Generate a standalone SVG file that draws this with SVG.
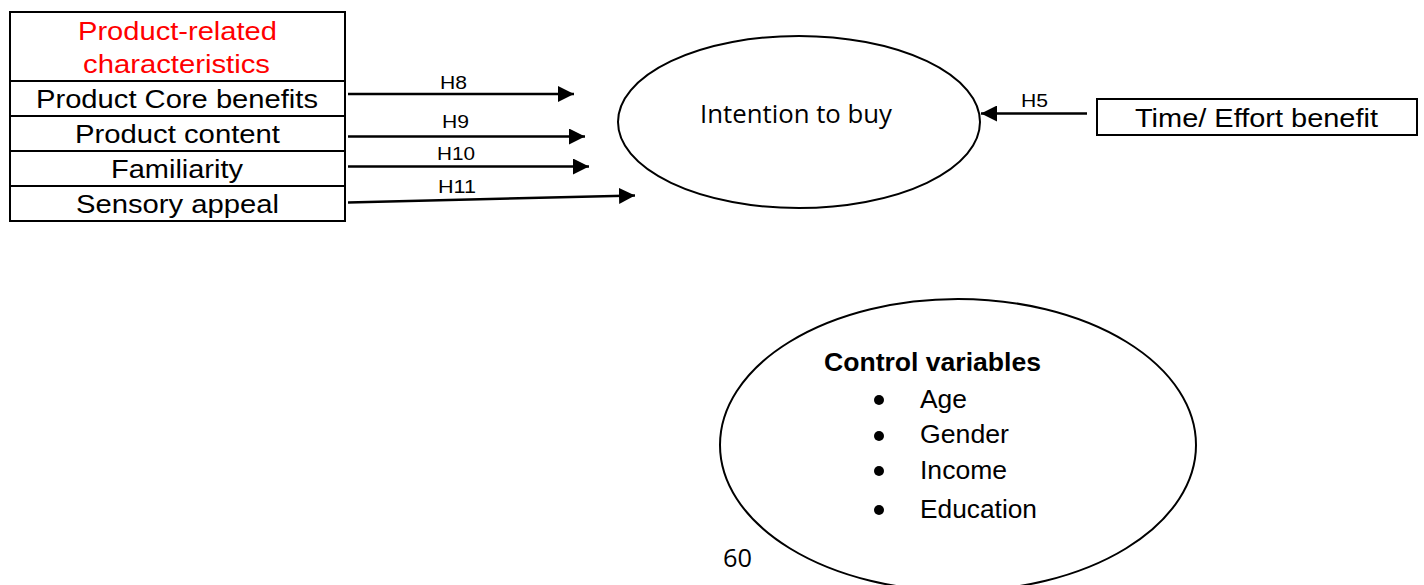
<svg xmlns="http://www.w3.org/2000/svg" width="1424" height="585" viewBox="0 0 1424 585">
<style>
.box{fill:#fff;stroke:#000;stroke-width:2}
.ell{fill:#fff;stroke:#000;stroke-width:2}
.t{font-family:"Liberation Sans",Arial,sans-serif;font-size:25px;fill:#000}
.red{fill:#ff0000}
.lbl{font-family:"Liberation Sans",Arial,sans-serif;font-size:19px;fill:#000}
.cal{font-family:"Open Sans","Noto Sans",sans-serif;font-size:25px;fill:#000}
.cv{font-family:"Liberation Sans",Arial,sans-serif;font-size:25px;fill:#000}
.conn{stroke:#000;stroke-width:2.5;fill:none;marker-end:url(#ah)}
</style>
<defs>
<marker id="ah" viewBox="0 0 16 16" refX="16" refY="8" markerWidth="16" markerHeight="16" markerUnits="userSpaceOnUse" orient="auto">
<path d="M0,0 L16,8 L0,16 Z" fill="#000"/>
</marker>
</defs>
<rect width="1424" height="585" fill="#fff"/>
<g id="product-box">
<rect class="box" x="10" y="12" width="335" height="209"/>
<line x1="10" y1="81" x2="345" y2="81" stroke="#000" stroke-width="2"/>
<line x1="10" y1="116" x2="345" y2="116" stroke="#000" stroke-width="2"/>
<line x1="10" y1="151" x2="345" y2="151" stroke="#000" stroke-width="2"/>
<line x1="10" y1="186" x2="345" y2="186" stroke="#000" stroke-width="2"/>
<text class="t red" x="78" y="40" textLength="199" lengthAdjust="spacingAndGlyphs">Product-related</text>
<text class="t red" x="83" y="73" textLength="187" lengthAdjust="spacingAndGlyphs">characteristics</text>
<text class="t" x="36" y="108" textLength="282" lengthAdjust="spacingAndGlyphs">Product Core benefits</text>
<text class="t" x="75" y="143" textLength="205" lengthAdjust="spacingAndGlyphs">Product content</text>
<text class="t" x="111" y="178" textLength="132" lengthAdjust="spacingAndGlyphs">Familiarity</text>
<text class="t" x="76" y="213" textLength="203" lengthAdjust="spacingAndGlyphs">Sensory appeal</text>
</g>
<g id="intention">
<ellipse class="ell" cx="799" cy="122" rx="181" ry="86"/>
<text class="cal" x="700" y="123" textLength="192" lengthAdjust="spacingAndGlyphs">Intention to buy</text>
</g>
<g id="time-effort">
<rect class="box" x="1097" y="99" width="320" height="36"/>
<text class="t" x="1135" y="127" textLength="243" lengthAdjust="spacingAndGlyphs">Time/ Effort benefit</text>
</g>
<g id="control">
<ellipse class="ell" cx="958" cy="445" rx="238" ry="146"/>
<text class="cv" x="824" y="371" font-weight="bold" textLength="217" lengthAdjust="spacingAndGlyphs">Control variables</text>
<circle cx="879" cy="400" r="5" fill="#000"/>
<circle cx="879" cy="436" r="5" fill="#000"/>
<circle cx="879" cy="471" r="5" fill="#000"/>
<circle cx="879" cy="510" r="5" fill="#000"/>
<text class="cv" x="920" y="408" textLength="47" lengthAdjust="spacingAndGlyphs">Age</text>
<text class="cv" x="920" y="443" textLength="89" lengthAdjust="spacingAndGlyphs">Gender</text>
<text class="cv" x="920" y="479" textLength="87" lengthAdjust="spacingAndGlyphs">Income</text>
<text class="cv" x="920" y="518" textLength="117" lengthAdjust="spacingAndGlyphs">Education</text>
</g>
<g id="connectors">
<line class="conn" x1="348" y1="94" x2="574" y2="94"/>
<line class="conn" x1="348" y1="136.5" x2="585" y2="136.5"/>
<line class="conn" x1="348" y1="166.5" x2="589" y2="166.5"/>
<line class="conn" x1="348" y1="202.5" x2="635" y2="195.5"/>
<line class="conn" x1="1087" y1="113.5" x2="981" y2="113.5"/>
<text class="lbl" x="440" y="89" textLength="27" lengthAdjust="spacingAndGlyphs">H8</text>
<text class="lbl" x="442" y="128" textLength="27" lengthAdjust="spacingAndGlyphs">H9</text>
<text class="lbl" x="437" y="160" textLength="38" lengthAdjust="spacingAndGlyphs">H10</text>
<text class="lbl" x="438" y="193" textLength="38" lengthAdjust="spacingAndGlyphs">H11</text>
<text class="lbl" x="1021" y="107" textLength="27" lengthAdjust="spacingAndGlyphs">H5</text>
</g>
<text class="cal" x="723" y="567" textLength="29" lengthAdjust="spacingAndGlyphs">60</text>
</svg>
